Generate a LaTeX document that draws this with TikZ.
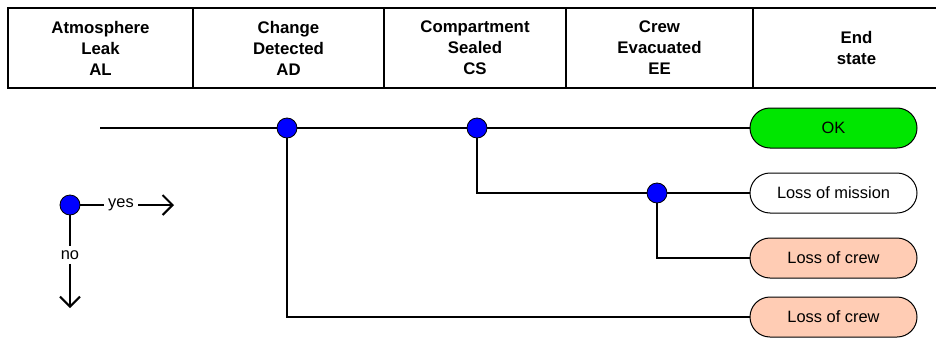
\documentclass[tikz,border=0pt]{standalone}
\usepackage{fontspec}
\setmainfont{Liberation Sans}
\usetikzlibrary{arrows.meta}

\definecolor{okgreen}{RGB}{0,230,0}
\definecolor{crewpeach}{RGB}{255,204,180}

\begin{document}
\begin{tikzpicture}[x=0.5pt,y=-0.5pt,
    header/.style={draw, line width=1pt, minimum height=40pt, inner sep=0pt,
        align=center, font=\fontsize{8.4}{10.5}\selectfont\bfseries},
    branch/.style={circle, draw, fill=blue, line width=0.4pt, minimum size=10pt, inner sep=0pt},
    endstate/.style={draw, rounded corners=10pt, line width=0.5pt, minimum width=83.5pt,
        minimum height=20pt, inner sep=0pt, font=\fontsize{8.2}{10}\selectfont},
    seq/.style={line width=1pt},
    keylabel/.style={font=\fontsize{8.2}{10}\selectfont, inner sep=2pt}]

    % 1. Picture frame (the last column runs off the right edge)
    \useasboundingbox (0,0) rectangle (936,337);
    \clip (0,0) rectangle (936,337);

    % 2. Header row with the event names
    \foreach \xa/\xb/\txt/\nm in {8/193/{Atmosphere\\Leak\\AL}/hAL,
                                   193/384/{Change\\Detected\\AD}/hAD,
                                   384/566/{Compartment\\Sealed\\CS}/hCS,
                                   566/753/{Crew\\Evacuated\\EE}/hEE,
                                   753/960/{End\\state}/hES}
        \node[header, minimum width={(\xb-\xa)*0.5pt}] (\nm) at ({(\xa+\xb)/2},48) {\txt};

    % 3. Branch points and end states
    \coordinate (start) at (100,128);
    \node[branch] (ad) at (287,128) {};
    \node[branch] (cs) at (477,128) {};
    \node[branch] (ee) at (657,193) {};

    \node[endstate, fill=okgreen] (ok) at (833.5,128) {OK};
    \node[endstate, fill=white] (mission) at (833.5,193) {Loss of mission};
    \node[endstate, fill=crewpeach] (crewA) at (833.5,258) {Loss of crew};
    \node[endstate, fill=crewpeach] (crewB) at (833.5,317) {Loss of crew};

    % 4. Event tree branches
    \draw[seq] (start) -- (ad) -- (cs) -- (ok);
    \draw[seq] (cs) |- (ee);
    \draw[seq] (ee) -- (mission);
    \draw[seq] (ee) |- (crewA);
    \draw[seq] (ad) |- (crewB);

    % 5. Legend: yes goes right, no goes down
    \node[branch] (key) at (70,205) {};
    \node[keylabel] (yes) at (121,205) {yes};
    \node[keylabel] (no) at (70,255) {no};
    \coordinate (yesend) at (174,205);
    \coordinate (noend) at (70,308);
    \draw[seq] (key) -- (yes);
    \draw[seq, -{Straight Barb[length=5pt,width=10pt]}] (yes) -- (yesend);
    \draw[seq] (key) -- (no);
    \draw[seq, -{Straight Barb[length=5pt,width=10pt]}] (no) -- (noend);

\end{tikzpicture}
\end{document}
